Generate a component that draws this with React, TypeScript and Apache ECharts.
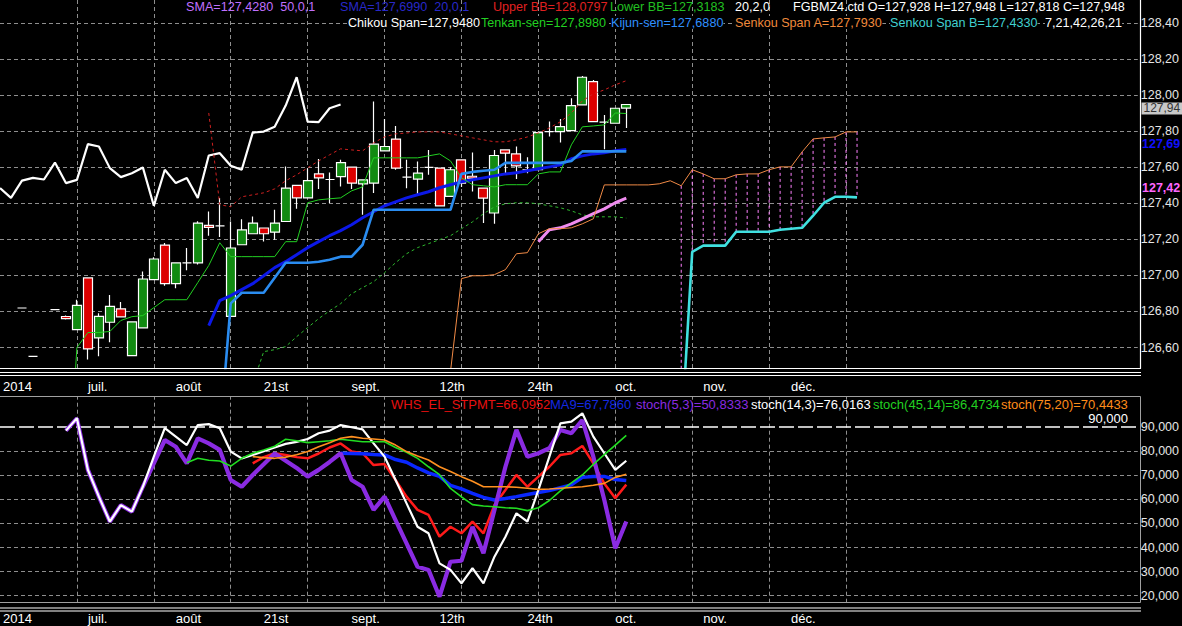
import React, { useEffect, useRef } from 'react';
import * as echarts from 'echarts';

const FONT = '"Liberation Sans", Arial, Helvetica, sans-serif';

// ---------- date axis (bar index based) ----------
const DATE_LABEL_BARS = [-2, 6, 14, 22, 30, 38, 46, 54, 62, 70];
const DATE_LABELS = ['2014', 'juil.', 'août', '21st', 'sept.', '12th', '24th', 'oct.', 'nov.', 'déc.'];
const DATE_GRID_BARS = [5, 12, 19, 26, 33, 40, 47, 54, 61, 68, 75];
const OSC_GRID_LEVELS = [20, 30, 40, 50, 60, 70, 80];
const OSC_LEVEL = 90;

// ---------- FGBMZ4 daily bars 0..55 (null = no trade) ----------
const OPEN = [126.819, 126.551, null, 126.810, 126.772, 126.699, 126.986, 126.653, 126.740, 126.814, 126.555, 126.709, 126.976, 127.168, 126.954, 127.069, 127.069, 127.277, 127.275, 126.773, 127.170, 127.231, 127.263, 127.240, 127.299, 127.499, 127.430, 127.563, 127.532, 127.548, 127.601, 127.508, 127.512, 127.691, 127.756, 127.545, 127.534, 127.599, 127.595, 127.438, 127.641, 127.550, 127.484, 127.346, 127.696, 127.674, 127.586, 127.586, 127.798, 127.798, 127.803, 127.946, 128.075, 127.850, 127.844, 127.928];
const HIGH = [126.819, 126.551, null, 126.810, 126.778, 126.865, 126.986, 126.790, 126.891, 126.853, 126.742, 127.021, 127.100, 127.180, 127.069, 127.152, 127.300, 127.355, 127.429, 127.299, 127.312, 127.327, 127.263, 127.364, 127.604, 127.499, 127.595, 127.645, 127.571, 127.641, 127.601, 127.530, 127.964, 127.867, 127.829, 127.641, 127.632, 127.696, 127.595, 127.600, 127.641, 127.681, 127.484, 127.696, 127.696, 127.715, 127.656, 127.800, 127.853, 127.867, 127.983, 128.106, 128.084, 127.890, 127.930, 127.948];
const LOW = [126.819, 126.551, null, 126.810, 126.755, 126.699, 126.533, 126.551, 126.629, 126.770, 126.555, 126.709, 126.976, 126.943, 126.928, 127.028, 127.060, 127.220, 127.213, 126.773, 127.170, 127.231, 127.188, 127.198, 127.299, 127.370, 127.430, 127.479, 127.401, 127.493, 127.479, 127.336, 127.457, 127.691, 127.586, 127.484, 127.442, 127.558, 127.386, 127.438, 127.490, 127.465, 127.290, 127.286, 127.567, 127.534, 127.567, 127.586, 127.770, 127.737, 127.803, 127.946, 127.853, 127.700, 127.844, 127.818];
const CLOSE = [126.819, 126.551, null, 126.810, 126.760, 126.834, 126.592, 126.773, 126.828, 126.770, 126.742, 126.980, 127.091, 126.954, 127.069, 127.069, 127.290, 127.266, 127.275, 127.152, 127.252, 127.290, 127.231, 127.290, 127.484, 127.430, 127.526, 127.541, 127.532, 127.626, 127.512, 127.530, 127.728, 127.715, 127.595, 127.545, 127.567, 127.599, 127.386, 127.586, 127.512, 127.540, 127.429, 127.665, 127.678, 127.608, 127.586, 127.792, 127.798, 127.825, 127.942, 128.099, 127.853, 127.850, 127.927, 127.948];

// ---------- overlays (first bar index + values) ----------
const TENKAN_FROM = 4;
const TENKAN = [125.65, 126.600, 126.683, 126.683, 126.689, 126.750, 126.771, 126.777, 126.821, 126.865, 126.865, 126.865, 126.960, 127.055, 127.181, 127.104, 127.104, 127.104, 127.104, 127.104, 127.187, 127.187, 127.403, 127.419, 127.425, 127.430, 127.469, 127.491, 127.652, 127.652, 127.652, 127.652, 127.652, 127.663, 127.674, 127.635, 127.541, 127.503, 127.497, 127.491, 127.503, 127.503, 127.503, 127.563, 127.574, 127.574, 127.724, 127.824, 127.829, 127.835, 127.901, 127.898];
const KIJUN_FROM = 18;
const KIJUN = [126.10, 126.845, 126.904, 126.904, 126.904, 126.987, 127.070, 127.070, 127.070, 127.076, 127.087, 127.104, 127.104, 127.170, 127.364, 127.364, 127.364, 127.364, 127.364, 127.364, 127.364, 127.364, 127.563, 127.574, 127.580, 127.586, 127.624, 127.624, 127.624, 127.624, 127.624, 127.624, 127.635, 127.688, 127.688, 127.688, 127.688, 127.688];
const SMA20_FROM = 17;
const SMA20 = [126.721, 126.860, 126.888, 126.921, 126.954, 126.998, 127.043, 127.076, 127.115, 127.154, 127.187, 127.220, 127.248, 127.281, 127.320, 127.353, 127.386, 127.408, 127.430, 127.447, 127.464, 127.486, 127.503, 127.519, 127.530, 127.541, 127.552, 127.563, 127.569, 127.580, 127.591, 127.602, 127.613, 127.647, 127.663, 127.674, 127.680, 127.691, 127.699];
const SMA50_FROM = 47;
const SMA50 = [127.187, 127.253, 127.264, 127.286, 127.314, 127.342, 127.369, 127.403, 127.428];
const BB_UP_FROM = 17;
const BB_UP = [127.901, 127.392, 127.381, 127.436, 127.447, 127.458, 127.480, 127.525, 127.558, 127.597, 127.635, 127.669, 127.702, 127.696, 127.691, 127.735, 127.768, 127.785, 127.790, 127.796, 127.796, 127.796, 127.785, 127.774, 127.763, 127.752, 127.741, 127.741, 127.752, 127.768, 127.790, 127.818, 127.852, 127.901, 127.968, 128.007, 128.029, 128.057, 128.080];
const BB_LOW_FROM = 21;
const BB_LOW = [126.395, 126.577, 126.588, 126.605, 126.660, 126.710, 126.760, 126.804, 126.843, 126.898, 126.932, 126.965, 127.015, 127.070, 127.120, 127.154, 127.176, 127.198, 127.220, 127.259, 127.297, 127.342, 127.380, 127.397, 127.403, 127.403, 127.397, 127.386, 127.375, 127.358, 127.336, 127.325, 127.325, 127.325, 127.318];
const SENKOU_A_FROM = 39;
const SENKOU_A = [126.467, 126.982, 126.998, 126.998, 127.004, 127.032, 127.120, 127.126, 127.231, 127.259, 127.259, 127.264, 127.286, 127.314, 127.502, 127.502, 127.502, 127.502, 127.502, 127.508, 127.525, 127.497, 127.586, 127.563, 127.536, 127.536, 127.558, 127.563, 127.563, 127.586, 127.602, 127.602, 127.685, 127.757, 127.763, 127.768, 127.796, 127.796];
const SENKOU_B_FROM = 60;
const SENKOU_B = [126.10, 127.131, 127.165, 127.165, 127.165, 127.242, 127.242, 127.242, 127.242, 127.253, 127.259, 127.264, 127.331, 127.403, 127.436, 127.436, 127.433];
const CHIKOU_SHIFT = 26;

// ---------- oscillators ----------
const STPMT_FROM = 21;
const STPMT = [74.9, 77.5, 79.1, 78.4, 77.5, 77, 79, 81.5, 83.2, 79.8, 79.1, 74.2, 74.6, 68, 61.1, 55.6, 53.5, 44.5, 48.6, 45.9, 50.7, 45.9, 57.6, 63.9, 70.1, 65.2, 69.4, 73.5, 78.4, 79.1, 82.1, 74.9, 66.6, 60.4, 66.1];
const MA9_FROM = 29;
const MA9 = [79.1, 79, 78.9, 78.6, 78.4, 76.5, 75.4, 73, 71, 69.5, 65.8, 64.3, 62.5, 60.8, 59.7, 60.3, 61.1, 62, 62.8, 63.6, 64.8, 66, 69.1, 69.5, 69.5, 68.2, 67.8];
const STOCH_5_FROM = 4;
const STOCH_5 = [88.5, 93.6, 72.2, 61.1, 50.7, 57.6, 54.9, 65.2, 74.9, 84.6, 81.8, 74.9, 85.3, 83.2, 80.5, 68, 65.2, 70.1, 74.5, 79, 76, 73, 69.4, 72.2, 75.5, 79.1, 68, 65.2, 55.6, 61.1, 51.4, 41.7, 32, 30.7, 19.6, 34.1, 34.5, 48.6, 37.6, 55.6, 73.5, 88.8, 77.7, 79.1, 81.2, 88.8, 87.4, 92.9, 77.7, 59.7, 39.7, 50.8];
const STOCH_14_FROM = 4;
const STOCH_14 = [88.5, 93.6, 72.2, 61.1, 50.7, 57.6, 54.9, 65.2, 77.7, 89.5, 86, 82.5, 90.8, 91.2, 89.5, 79.8, 77, 78.4, 80, 81.5, 83, 83.8, 85, 87.4, 88.5, 90.8, 89.9, 89, 83.2, 77.7, 68, 58.3, 48.6, 45.9, 33.4, 30.7, 25.1, 31.4, 25.1, 36.2, 44.5, 54.2, 50.7, 63.9, 77.7, 91.5, 92.2, 95.7, 86, 79.1, 72.2, 76.0];
const STOCH_45_FROM = 15;
const STOCH_45 = [75.2, 77, 76.2, 75.9, 73.8, 77, 79.1, 80.5, 82, 84.9, 84.3, 83.5, 83.9, 84.3, 84.9, 84.4, 83.9, 83.9, 83.9, 81.5, 79.5, 77, 73.5, 70.2, 64.5, 61, 57.8, 57.2, 56.9, 56.5, 56.3, 55.3, 56.5, 59.5, 63.5, 66.8, 70.1, 74.5, 78.5, 82.5, 86.5];
const STOCH_75_FROM = 21;
const STOCH_75 = [77.7, 77.3, 77, 77.5, 78.5, 79.8, 81.8, 83.5, 85.3, 86, 85.3, 85, 84.6, 82.5, 79.8, 78, 76.3, 73.5, 71.5, 69.4, 67.5, 65.2, 65.2, 65.2, 65, 64.6, 64.1, 64.3, 64.6, 64.9, 65.2, 65.8, 66.6, 69.1, 70.4];

// ---------- legend texts ----------
const TOP_ROW1 = [
  { x: 186, text: 'SMA=127,4280  50,0,1', color: '#c070ff' },
  { x: 340, text: 'SMA=127,6990  20,0,1', color: '#2828c8' },
  { x: 493, text: 'Upper BB=128,0797', color: '#e02020' },
  { x: 610, text: 'Lower BB=127,3183', color: '#22c022' },
  { x: 735, text: '20,2,0', color: '#ffffff' },
  { x: 793, text: 'FGBMZ4.ctd O=127,928 H=127,948 L=127,818 C=127,948', color: '#ffffff' },
];
const TOP_ROW2 = [
  { x: 348, text: 'Chikou Span=127,9480', color: '#ffffff' },
  { x: 481, text: 'Tenkan-sen=127,8980', color: '#22d022' },
  { x: 611, text: 'Kijun-sen=127,6880', color: '#3090ff' },
  { x: 735, text: 'Senkou Span A=127,7930', color: '#f08a3c' },
  { x: 890, text: 'Senkou Span B=127,4330', color: '#40d0d0' },
  { x: 1045, text: '7,21,42,26,21', color: '#ffffff' },
];
const OSC_ROW = [
  { x: 391, text: 'WHS_EL_STPMT=66,0952', color: '#e81010' },
  { x: 550, text: 'MA9=67,7860', color: '#1428e0' },
  { x: 636, text: 'stoch(5,3)=50,8333', color: '#8a2be2' },
  { x: 751, text: 'stoch(14,3)=76,0163', color: '#ffffff' },
  { x: 873, text: 'stoch(45,14)=86,4734', color: '#22d022' },
  { x: 1001, text: 'stoch(75,20)=70,4433', color: '#ff8c1a' },
];

const pts = (from: number, vals: number[]) => vals.map((v, k) => [from + k, v]);
const comma = (v: number, d: number) => v.toFixed(d).replace('.', ',');
const trunc2 = (v: number) => comma(Math.floor(v * 100 + 1e-6) / 100, 2);

const X_MIN = -2;
const X_MAX = 101.55;

function buildOption() {
  const candles: any[] = [];
  for (let i = 0; i < CLOSE.length; i++) {
    if (CLOSE[i] == null) continue;
    candles.push([i, OPEN[i], CLOSE[i], LOW[i], HIGH[i]]);
  }
  const chikou = CLOSE.map((c, k) => [k - CHIKOU_SHIFT, c]).filter((p) => p[1] != null && (p[0] as number) >= X_MIN);
  const cloud: number[][] = [];
  for (let k = 0; k < SENKOU_B.length; k++) {
    const bar = SENKOU_B_FROM + k;
    const a = SENKOU_A[bar - SENKOU_A_FROM];
    if (a != null) cloud.push([bar, a, SENKOU_B[k]]);
  }

  const gridLine = { color: '#8e8e8e', type: [4, 3], width: 1 };
  const labelFmt = (v: number) => {
    const k = DATE_LABEL_BARS.indexOf(Math.round(v));
    if (k < 0) return '';
    return k === 0 ? '{y|' + DATE_LABELS[k] + '}' : DATE_LABELS[k];
  };
  const xAxis = [0, 1].map((g) => ({
    type: 'value',
    gridIndex: g,
    min: X_MIN,
    max: X_MAX,
    interval: 8,
    axisLine: { show: false },
    axisTick: { show: false },
    splitLine: { show: false },
    axisLabel: {
      show: true,
      margin: g === 0 ? 12 : 9.5,
      align: 'left',
      color: '#ffffff',
      fontSize: 13,
      fontFamily: FONT,
      showMinLabel: true,
      showMaxLabel: false,
      formatter: labelFmt,
      rich: { y: { padding: [0, 0, 0, 3], color: '#ffffff', fontSize: 13, fontFamily: FONT } },
    },
  }));

  const vMarks = DATE_GRID_BARS.map((b) => ({ xAxis: b }));
  const line = (name: string, data: any[], color: string, width: number, extra: any = {}, g = 0) => ({
    name,
    type: 'line',
    xAxisIndex: g,
    yAxisIndex: g,
    data,
    showSymbol: false,
    symbol: 'none',
    silent: true,
    lineStyle: { color, width, ...extra },
    z: 3,
  });

  return {
    animation: false,
    backgroundColor: '#000000',
    textStyle: { fontFamily: FONT },
    grid: [
      { left: -2.58, right: 41.4, top: 0, height: 368 },
      { left: -2.58, right: 41.4, top: 396, height: 206.7 },
    ],
    xAxis,
    yAxis: [
      {
        type: 'value',
        gridIndex: 0,
        position: 'right',
        min: 126.4863,
        max: 128.5276,
        minInterval: 0.2,
        maxInterval: 0.2,
        axisLine: { show: false },
        axisTick: { show: false },
        splitLine: { show: true, showMinLine: false, showMaxLine: false, lineStyle: gridLine },
        axisLabel: {
          margin: 3,
          color: '#e6e6e6',
          fontSize: 12.5,
          fontFamily: FONT,
          showMinLabel: false,
          showMaxLabel: false,
          formatter: (v: number) => comma(v, 2),
        },
      },
      {
        type: 'value',
        gridIndex: 1,
        position: 'right',
        min: 17.1,
        max: 102.86,
        minInterval: 10,
        maxInterval: 10,
        axisLine: { show: false },
        axisTick: { show: false },
        splitLine: { show: false },
        axisLabel: {
          margin: 3,
          color: '#e6e6e6',
          fontSize: 12.5,
          fontFamily: FONT,
          showMinLabel: false,
          showMaxLabel: false,
          formatter: (v: number) => (v > OSC_LEVEL + 1 ? '' : comma(v, 3)),
        },
      },
    ],
    series: [
      {
        name: 'FGBMZ4',
        type: 'candlestick',
        xAxisIndex: 0,
        yAxisIndex: 0,
        data: candles,
        barWidth: 9.5,
        silent: true,
        z: 2,
        itemStyle: {
          color: '#118a11',
          color0: '#dc0000',
          borderColor: '#ffffff',
          borderColor0: '#ffffff',
          borderColorDoji: '#ffffff',
          borderWidth: 1.2,
        },
        markLine: {
          silent: true,
          symbol: 'none',
          z: 1,
          label: { show: false },
          lineStyle: gridLine,
          data: vMarks,
        },
      },
      line('Chikou Span', chikou, '#ffffff', 2.2),
      line('Upper BB', pts(BB_UP_FROM, BB_UP), '#d02020', 1, { type: [3, 3] }),
      line('Lower BB', pts(BB_LOW_FROM, BB_LOW), '#2eb82e', 1, { type: [3, 3] }),
      line('SMA 20', pts(SMA20_FROM, SMA20), '#0c18e8', 3),
      line('Tenkan-sen', pts(TENKAN_FROM, TENKAN), '#22d022', 1),
      line('Kijun-sen', pts(KIJUN_FROM, KIJUN), '#2a8cf0', 2.6),
      line('SMA 50', pts(SMA50_FROM, SMA50), '#f08cf0', 3),
      line('Senkou Span A', pts(SENKOU_A_FROM, SENKOU_A), '#f08a46', 1),
      line('Senkou Span B', pts(SENKOU_B_FROM, SENKOU_B), '#40e0e0', 2.6),
      {
        name: 'Kumo',
        type: 'custom',
        xAxisIndex: 0,
        yAxisIndex: 0,
        silent: true,
        z: 2,
        data: cloud,
        renderItem: (params: any, api: any) => {
          const x = api.value(0);
          const p1 = api.coord([x, api.value(1)]);
          const p2 = api.coord([x, api.value(2)]);
          const cs = params.coordSys;
          const clamp = (v: number) => Math.max(cs.y, Math.min(cs.y + cs.height, v));
          return {
            type: 'line',
            shape: { x1: p1[0], y1: clamp(p1[1]), x2: p2[0], y2: clamp(p2[1]) },
            style: { stroke: '#ff80ff', lineWidth: 1, lineDash: [3, 3] },
          };
        },
      },
      {
        ...line('WHS_EL_STPMT', pts(STPMT_FROM, STPMT), '#ff1a1a', 2.5, {}, 1),
        markLine: {
          silent: true,
          symbol: 'none',
          z: 1,
          label: { show: false },
          lineStyle: gridLine,
          data: [
            ...vMarks,
            ...OSC_GRID_LEVELS.map((v) => ({ yAxis: v })),
            { yAxis: OSC_LEVEL, lineStyle: { color: '#ffffff', type: [15, 4], width: 1.5 } },
          ],
        },
      },
      line('MA9', pts(MA9_FROM, MA9), '#0a28ff', 3.5, {}, 1),
      line('stoch(5,3)', pts(STOCH_5_FROM, STOCH_5), '#8a2be2', 4.2, {}, 1),
      line('stoch(14,3)', pts(STOCH_14_FROM, STOCH_14), '#ffffff', 2.2, {}, 1),
      line('stoch(45,14)', pts(STOCH_45_FROM, STOCH_45), '#22dd22', 1.6, {}, 1),
      line('stoch(75,20)', pts(STOCH_75_FROM, STOCH_75), '#ff9020', 1.6, {}, 1),
    ],
  };
}

function buildGraphic(yPix: (v: number) => number) {
  const els: any[] = [];
  const text = (x: number, y: number, t: string, color: string, size: number, extra: any = {}) => ({
    type: 'text',
    x,
    y,
    z: 50,
    silent: true,
    style: { text: t, fill: color, font: size + 'px ' + FONT, verticalAlign: 'middle', align: 'left', ...extra },
  });
  const ln = (x1: number, y1: number, x2: number, y2: number, stroke: string, w = 1) => ({
    type: 'line',
    z: 50,
    silent: true,
    shape: { x1, y1, x2, y2 },
    style: { stroke, lineWidth: w },
  });
  TOP_ROW1.forEach((r) => els.push(text(r.x, 7, r.text, r.color, 12.6)));
  TOP_ROW2.forEach((r) => els.push(text(r.x, 22.5, r.text, r.color, 12.6, { backgroundColor: '#000000' })));
  OSC_ROW.forEach((r) => els.push(text(r.x, 404.5, r.text, r.color, 13)));
  els.push(text(1128, 418, comma(OSC_LEVEL, 3), '#ffffff', 13, { align: 'right' }));

  // frames
  els.push(ln(1140.5, 0, 1140.5, 368.5, '#ffffff', 1.2));
  els.push(ln(0, 368.5, 1141, 368.5, '#ffffff', 1.2));
  els.push(ln(0, 372.5, 1141, 372.5, '#ffffff', 1.2));
  els.push(ln(0, 375.5, 1141, 375.5, '#ffffff', 1.2));
  els.push({
    type: 'polyline',
    z: 50,
    silent: true,
    shape: { points: [[0, 396.5], [1140.5, 396.5], [1140.5, 602.5], [0, 602.5]] },
    style: { stroke: '#a0a0a0', fill: null, lineWidth: 1 },
  });
  els.push(ln(0, 608, 1141, 608, '#ffffff', 1.2));
  els.push(ln(0, 611, 1141, 611, '#ffffff', 1.2));

  // last-value markers on the price scale
  const lastClose = CLOSE[CLOSE.length - 1] as number;
  const lastSma20 = SMA20[SMA20.length - 1];
  const lastSma50 = SMA50[SMA50.length - 1];
  els.push(text(1141.5, yPix(lastClose) + 4, trunc2(lastClose), '#333333', 12, {
    backgroundColor: '#c8c8c8',
    padding: [0, 6, 0, 2],
  }));
  els.push(text(1142, yPix(lastSma20) - 5, trunc2(lastSma20), '#1010ff', 12.5, { font: 'bold 12.5px ' + FONT }));
  els.push(text(1142, yPix(lastSma50) - 10, trunc2(lastSma50), '#ff66ff', 12.5, { font: 'bold 12.5px ' + FONT }));
  return els;
}

export default function App() {
  const ref = useRef<HTMLDivElement>(null);
  useEffect(() => {
    document.body.style.margin = '0';
    document.body.style.background = '#000';
    document.body.style.overflow = 'hidden';
    const chart = echarts.init(ref.current as HTMLDivElement, undefined, { renderer: 'svg' });
    chart.setOption(buildOption() as any);
    const yPix = (v: number) => chart.convertToPixel({ yAxisIndex: 0 } as any, v) as unknown as number;
    chart.setOption({ graphic: buildGraphic(yPix) } as any);
    return () => chart.dispose();
  }, []);
  return <div ref={ref} style={{ width: 1182, height: 626, background: '#000' }} />;
}
